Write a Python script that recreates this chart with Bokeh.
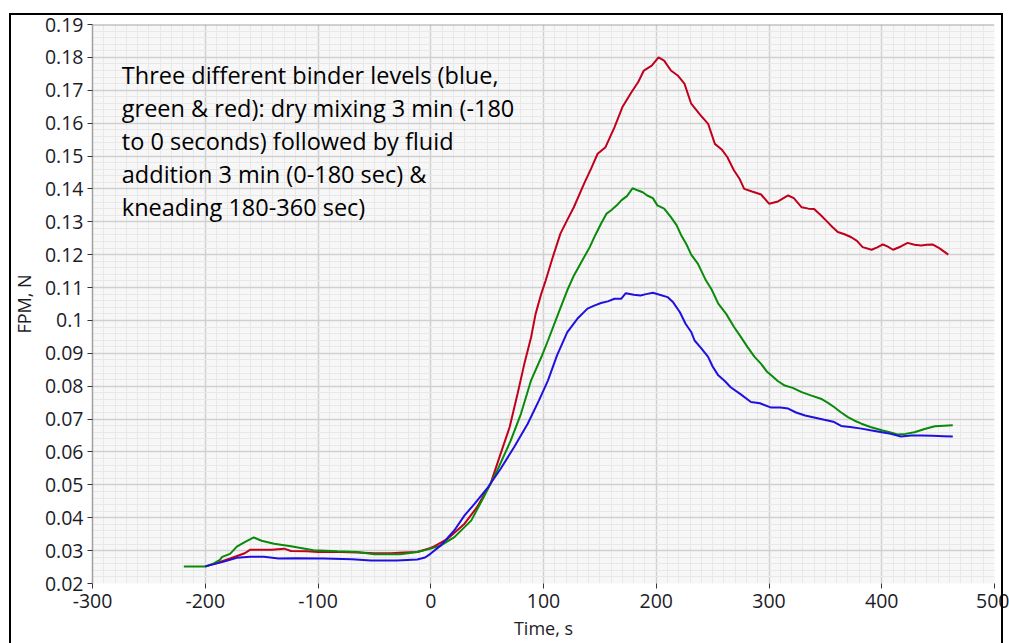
from bokeh.plotting import figure
from bokeh.models import FixedTicker, Label, Span, InlineStyleSheet, CustomJSTickFormatter
from bokeh.embed import file_html
from bokeh.resources import INLINE

# Force per mass (FPM) traces, time in seconds
red_t = [-200, -190, -178, -165, -160, -150, -141, -130, -124, -110, -100, -80, -65, -50, -35, -24, -12, 0,
         3, 15, 30, 41, 53, 62, 70, 77, 83, 89, 93, 98, 102, 108, 115, 121, 127, 136, 142, 148, 155, 163,
         170, 178, 184, 189, 196, 202, 207, 213, 219, 225, 231, 239, 246, 252, 258, 263, 269, 274, 278,
         285, 293, 300, 308, 317, 322, 329, 335, 340, 346, 352, 356, 361, 367, 373, 378, 383, 391, 396,
         401, 405, 410, 417, 423, 429, 435, 440, 445, 451, 459]
red_fpm = [0.0252, 0.0262, 0.0276, 0.0292, 0.0303, 0.0303, 0.0303, 0.0306, 0.0299, 0.0298, 0.0296, 0.0296,
           0.0294, 0.0292, 0.0292, 0.0294, 0.0296, 0.0308, 0.0313, 0.0336, 0.0382, 0.0432, 0.0503, 0.0595,
           0.0676, 0.0777, 0.0868, 0.0949, 0.1020, 0.1081, 0.1122, 0.1190, 0.1264, 0.1305, 0.1345, 0.1416,
           0.1460, 0.1507, 0.1527, 0.1588, 0.1649, 0.1694, 0.1725, 0.1760, 0.1775, 0.1800, 0.1790, 0.1760,
           0.1745, 0.1720, 0.1659, 0.1625, 0.1598, 0.1537, 0.1520, 0.1497, 0.1456, 0.1430, 0.1400, 0.1392,
           0.1383, 0.1355, 0.1362, 0.1380, 0.1372, 0.1344, 0.1340, 0.1339, 0.1320, 0.1299, 0.1285, 0.1269,
           0.1262, 0.1253, 0.1242, 0.1223, 0.1215, 0.1222, 0.1231, 0.1225, 0.1215, 0.1225, 0.1236, 0.1230,
           0.1228, 0.1230, 0.1231, 0.1220, 0.1200]

green_t = [-219, -199, -192, -187, -185, -178, -172, -165, -157, -150, -139, -124, -104, -83, -65, -50, -27,
           -12, 0, 9, 21, 36, 47, 59, 71, 80, 89, 98, 104, 113, 121, 127, 134, 141, 146, 151, 156, 160, 165,
           169, 174, 179, 184, 188, 192, 197, 201, 207, 213, 218, 222, 227, 231, 237, 244, 249, 255, 262,
           269, 275, 281, 287, 293, 298, 302, 308, 314, 321, 329, 337, 346, 352, 358, 364, 370, 376, 382,
           390, 400, 407, 414, 421, 429, 438, 447, 455, 463]
green_fpm = [0.0252, 0.0252, 0.0262, 0.0272, 0.0281, 0.0290, 0.0312, 0.0326, 0.0340, 0.0330, 0.0321, 0.0313,
             0.0301, 0.0298, 0.0296, 0.0289, 0.0289, 0.0296, 0.0306, 0.0316, 0.0341, 0.0392, 0.0463, 0.0544,
             0.0635, 0.0716, 0.0818, 0.0888, 0.0939, 0.1020, 0.1091, 0.1137, 0.1180, 0.1223, 0.1260, 0.1294,
             0.1325, 0.1335, 0.1350, 0.1365, 0.1378, 0.1402, 0.1395, 0.1390, 0.1380, 0.1372, 0.1350, 0.1340,
             0.1314, 0.1290, 0.1260, 0.1230, 0.1200, 0.1172, 0.1122, 0.1095, 0.1051, 0.1020, 0.0980, 0.0950,
             0.0919, 0.0890, 0.0868, 0.0845, 0.0833, 0.0815, 0.0802, 0.0795, 0.0782, 0.0772, 0.0762, 0.0750,
             0.0736, 0.0720, 0.0706, 0.0695, 0.0686, 0.0676, 0.0666, 0.0660, 0.0653, 0.0655, 0.0660, 0.0670,
             0.0678, 0.0680, 0.0681]

blue_t = [-200, -185, -172, -160, -148, -135, -120, -95, -70, -53, -30, -12, -5, 0, 9, 21, 30, 39, 50, 62,
          74, 86, 96, 104, 112, 121, 130, 139, 145, 151, 157, 163, 169, 173, 180, 186, 191, 197, 203, 210,
          215, 221, 226, 231, 234, 240, 246, 250, 255, 261, 266, 275, 284, 292, 302, 310, 317, 324, 332,
          340, 349, 357, 364, 372, 382, 390, 400, 408, 417, 426, 435, 445, 455, 463]
blue_fpm = [0.0252, 0.0265, 0.0278, 0.0281, 0.0281, 0.0276, 0.0277, 0.0276, 0.0274, 0.0270, 0.0270, 0.0273,
            0.0279, 0.0291, 0.0316, 0.0362, 0.0407, 0.0443, 0.0489, 0.0549, 0.0615, 0.0686, 0.0757, 0.0818,
            0.0894, 0.0964, 0.1005, 0.1036, 0.1045, 0.1053, 0.1058, 0.1066, 0.1066, 0.1083, 0.1078, 0.1076,
            0.1080, 0.1084, 0.1078, 0.1071, 0.1055, 0.1025, 0.0990, 0.0965, 0.0939, 0.0915, 0.0889, 0.0860,
            0.0833, 0.0815, 0.0797, 0.0775, 0.0752, 0.0748, 0.0735, 0.0735, 0.0732, 0.0720, 0.0711, 0.0705,
            0.0698, 0.0692, 0.0679, 0.0676, 0.0671, 0.0666, 0.0660, 0.0655, 0.0647, 0.0650, 0.0650, 0.0649,
            0.0648, 0.0647]

x_ticks = [-300, -200, -100, 0, 100, 200, 300, 400, 500]
x_tick_labels = ["-300", "-200", "-100", "0", "100", "200", "300", "400", "500"]
y_ticks = [0.02, 0.03, 0.04, 0.05, 0.06, 0.07, 0.08, 0.09, 0.1, 0.11, 0.12, 0.13, 0.14, 0.15, 0.16,
           0.17, 0.18, 0.19]
y_tick_labels = ["0.02", "0.03", "0.04", "0.05", "0.06", "0.07", "0.08", "0.09", "0.1", "0.11", "0.12",
                 "0.13", "0.14", "0.15", "0.16", "0.17", "0.18", "0.19"]

note_lines = [
    "Three different binder levels (blue,",
    "green & red): dry mixing 3 min (-180",
    "to 0 seconds) followed by fluid",
    "addition 3 min (0-180 sec) &",
    "kneading 180-360 sec)",
]

FONT = "Open Sans"
TXT = "#1c1c28"

# black frame drawn around the whole chart, on top of the canvas
frame_css = InlineStyleSheet(css="""
:host { position: relative; }
:host::after {
  content: "";
  position: absolute;
  left: 9px; top: 13px; width: 994px; height: 640px;
  border: 2px solid black; box-sizing: border-box;
  pointer-events: none;
}
""")

# look up each tick's text in the matching label list
LOOKUP = """
let best = 0;
for (let i = 1; i < tick_vals.length; i++) {
  if (Math.abs(tick_vals[i] - tick) < Math.abs(tick_vals[best] - tick)) best = i;
}
return tick_text[best];
"""

p = figure(width=1009, height=643, x_range=(-300, 500), y_range=(0.02, 0.19),
           output_backend="svg", toolbar_location=None,
           min_border_left=92, min_border_right=15, min_border_top=24, min_border_bottom=60,
           background_fill_color="#f7f7f7", border_fill_color="white",
           stylesheets=[frame_css])
p.outline_line_color = None

x_minor = list(range(-300, 501, 10))
y_minor = [round(0.02 + i * 0.002, 3) for i in range(86)]

xax = p.xaxis[0]
yax = p.yaxis[0]
xax.ticker = FixedTicker(ticks=x_ticks, minor_ticks=x_minor)
yax.ticker = FixedTicker(ticks=y_ticks, minor_ticks=y_minor)
xax.formatter = CustomJSTickFormatter(args=dict(tick_vals=x_ticks, tick_text=x_tick_labels), code=LOOKUP)
yax.formatter = CustomJSTickFormatter(args=dict(tick_vals=y_ticks, tick_text=y_tick_labels), code=LOOKUP)

for g in (p.xgrid[0], p.ygrid[0]):
    g.grid_line_color = "#d0d0d0"
    g.grid_line_width = 1.5
    g.minor_grid_line_color = "#e8e8e8"
    g.minor_grid_line_width = 1

for ax in (xax, yax):
    ax.minor_tick_line_color = None
    ax.major_tick_in = 0
    ax.major_tick_out = 5
    ax.major_tick_line_color = "#333333"
    ax.major_label_text_font = FONT
    ax.major_label_text_font_size = "19.5px"
    ax.major_label_text_color = TXT
    ax.axis_label_text_font = FONT
    ax.axis_label_text_font_size = "18px"
    ax.axis_label_text_font_style = "normal"
    ax.axis_label_text_color = TXT

xax.axis_line_color = None
xax.major_label_standoff = 5
xax.axis_label = "Time, s"
xax.axis_label_standoff = 5
yax.axis_line_color = "#a0a0a0"
yax.axis_line_width = 1.5
yax.major_label_standoff = 4
yax.axis_label = "FPM, N"
yax.axis_label_standoff = 6

p.add_layout(Span(location=0.19, dimension="width", line_color="#a8a8a8", line_width=2))

p.line(red_t, red_fpm, line_color="#c0001c", line_width=2)
p.line(green_t, green_fpm, line_color="#0a8a0a", line_width=2)
p.line(blue_t, blue_fpm, line_color="#2010e0", line_width=2)

for i, line in enumerate(note_lines):
    p.add_layout(Label(x=-274, y=0.1747 - i * 0.01003, text=line, text_font=FONT,
                       text_font_size="23.5px", text_color="black", text_baseline="alphabetic"))

open("out.html", "w").write(file_html(p, INLINE))
